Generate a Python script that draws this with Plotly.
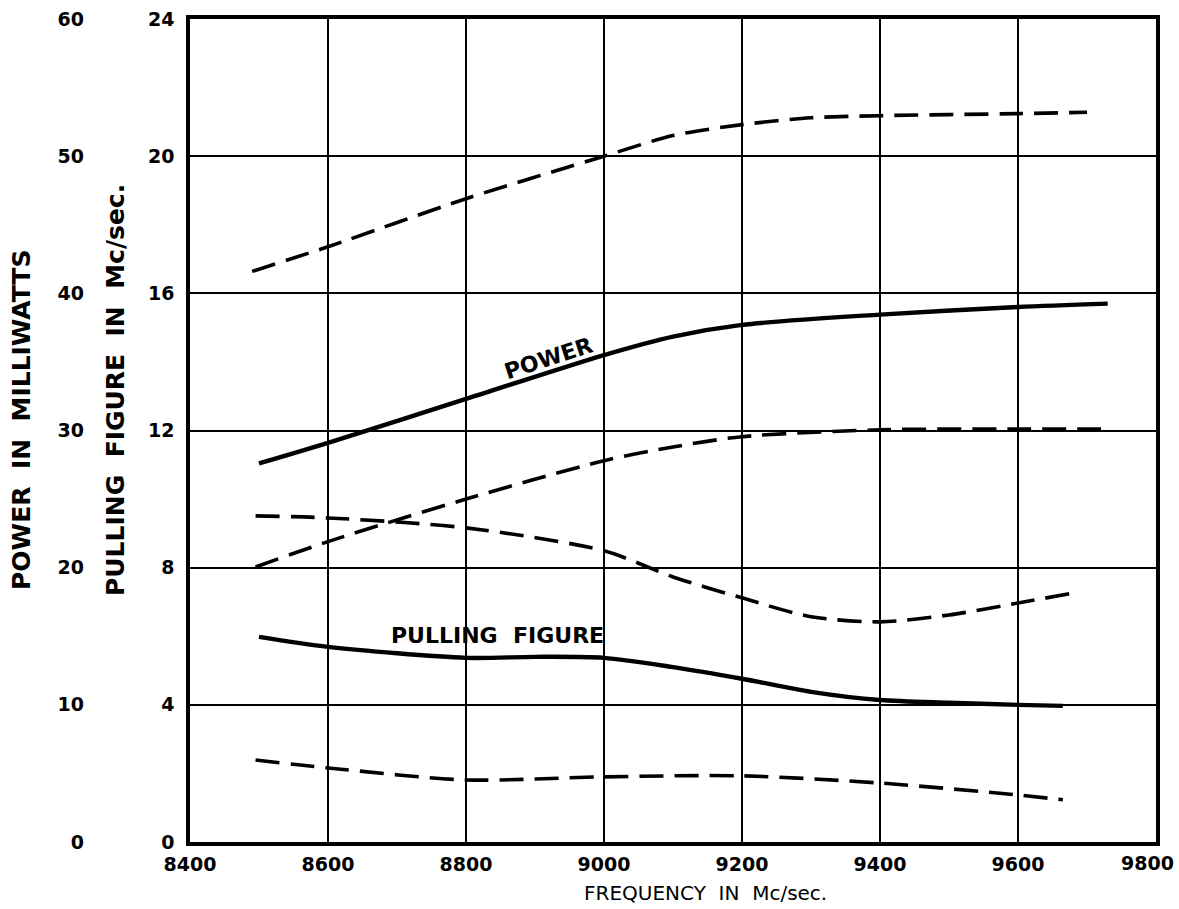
import plotly.graph_objects as go

# ---- data ----
power_upper_f = [8490, 8600, 8800, 9000, 9100, 9200, 9300, 9400, 9600, 9700]
power_upper_mw = [41.6, 43.4, 46.9, 50.0, 51.5, 52.3, 52.8, 52.95, 53.1, 53.2]

power_f = [8500, 8600, 8800, 9000, 9100, 9200, 9400, 9600, 9730]
power_mw = [27.6, 29.1, 32.3, 35.5, 36.85, 37.7, 38.45, 39.0, 39.25]

power_lower_f = [8495, 8600, 8800, 9000, 9100, 9200, 9400, 9600, 9730]
power_lower_mw = [20.05, 21.9, 25.0, 27.8, 28.8, 29.55, 30.05, 30.1, 30.1]

pull_upper_f = [8495, 8600, 8800, 9000, 9100, 9200, 9300, 9400, 9500, 9600, 9675]
pull_upper = [9.51, 9.45, 9.16, 8.49, 7.73, 7.12, 6.57, 6.42, 6.62, 6.97, 7.24]

pull_f = [8500, 8600, 8800, 8900, 9000, 9100, 9200, 9300, 9400, 9500, 9600, 9665]
pull = [5.98, 5.69, 5.37, 5.40, 5.37, 5.10, 4.76, 4.38, 4.14, 4.06, 4.00, 3.97]

pull_lower_f = [8495, 8600, 8800, 9000, 9200, 9400, 9600, 9665]
pull_lower = [2.39, 2.16, 1.81, 1.90, 1.93, 1.72, 1.37, 1.23]

x_ticks = [8400, 8600, 8800, 9000, 9200, 9400, 9600, 9800]
pull_ticks = [0, 4, 8, 12, 16, 20, 24]
power_ticks = [0, 10, 20, 30, 40, 50, 60]

FONT = "DejaVu Sans"
DASH = "24px,11px"

W, H = 1179, 909
ML, MR, MT, MB = 40, 23, 19, 67
PW = W - ML - MR      # paper width
PH = H - MT - MB      # paper height


def px_x(p):
    return (p - ML) / PW


def px_y(p):
    return (H - MB - p) / PH


fig = go.Figure()


def add(xs, ys, axis, dashed):
    fig.add_trace(go.Scatter(
        x=xs, y=ys, yaxis=axis, mode="lines",
        line=dict(color="black", width=3.6 if dashed else 4.4,
                  dash=DASH if dashed else "solid",
                  shape="spline", smoothing=0.8),
        showlegend=False, hoverinfo="skip"))


add(power_upper_f, power_upper_mw, "y2", True)
add(power_f, power_mw, "y2", False)
add(power_lower_f, power_lower_mw, "y2", True)
add(pull_upper_f, pull_upper, "y", True)
add(pull_f, pull, "y", False)
add(pull_lower_f, pull_lower, "y", True)

tickfont = dict(family=FONT, size=19, color="black", weight="bold")

# the last x tick label sits slightly inside the frame in the reference
x_text = [str(v) for v in x_ticks[:-1]] + [""]

fig.update_layout(
    width=W, height=H,
    margin=dict(l=ML, r=MR, t=MT, b=MB, autoexpand=False),
    paper_bgcolor="white", plot_bgcolor="white",
    xaxis=dict(domain=[px_x(190), 1], range=[8400, 9800],
               tickvals=x_ticks, ticktext=x_text,
               showgrid=True, gridcolor="black", gridwidth=1.6,
               showline=True, linecolor="black", linewidth=3.5, mirror=True,
               zeroline=False, ticks="", tickfont=tickfont,
               ticklabelstandoff=2, ticklabeloverflow="allow",
               automargin=False),
    yaxis=dict(range=[0, 24], tickvals=pull_ticks,
               ticktext=[str(v) for v in pull_ticks],
               showgrid=True, gridcolor="black", gridwidth=1.6,
               showline=True, linecolor="black", linewidth=3.5, mirror=True,
               zeroline=False, ticks="", tickfont=tickfont,
               ticklabelstandoff=8, automargin=False),
    yaxis2=dict(range=[0, 60], tickvals=power_ticks,
                ticktext=[str(v) for v in power_ticks],
                overlaying="y", anchor="free", position=px_x(88), side="left",
                showgrid=False, showline=False, zeroline=False, ticks="",
                tickfont=tickfont, ticklabelstandoff=4, automargin=False),
)

fig.add_annotation(text=str(x_ticks[-1]), xref="paper", yref="paper",
                   x=px_x(1147), y=px_y(863), showarrow=False,
                   xanchor="center", yanchor="middle", font=tickfont)

fig.add_annotation(text="POWER  IN  MILLIWATTS", xref="paper", yref="paper",
                   x=px_x(21), y=px_y(420), textangle=-90,
                   showarrow=False, xanchor="center", yanchor="middle",
                   font=dict(family=FONT, size=25, color="black", weight="bold"))
fig.add_annotation(text="PULLING  FIGURE  IN  Mc/sec.", xref="paper", yref="paper",
                   x=px_x(115), y=px_y(390), textangle=-90,
                   showarrow=False, xanchor="center", yanchor="middle",
                   font=dict(family=FONT, size=25, color="black", weight="bold"))
fig.add_annotation(text="FREQUENCY  IN  Mc/sec.", xref="paper", yref="paper",
                   x=px_x(705), y=px_y(893),
                   showarrow=False, xanchor="center", yanchor="middle",
                   font=dict(family=FONT, size=20, color="black"))
fig.add_annotation(text="POWER", xref="x", yref="y", x=8919, y=14.1,
                   textangle=-18, showarrow=False,
                   font=dict(family=FONT, size=22, color="black", weight="bold"))
fig.add_annotation(text="PULLING  FIGURE", xref="x", yref="y", x=8845, y=6.01,
                   showarrow=False,
                   font=dict(family=FONT, size=22, color="black", weight="bold"))

fig.write_html("out.html", config={"displayModeBar": False},
               post_script="document.body.style.margin='0px';")
